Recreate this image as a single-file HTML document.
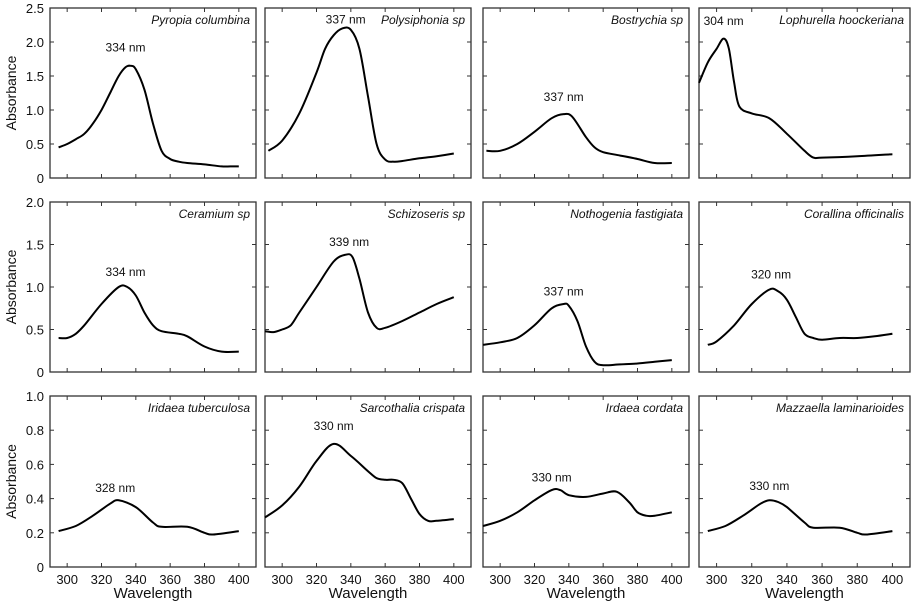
<!DOCTYPE html>
<html><head><meta charset="utf-8">
<style>
html,body{margin:0;padding:0;background:#fff;}
svg{display:block;font-family:"Liberation Sans",Arial,sans-serif;}
</style></head>
<body>
<svg id="chart" width="913" height="603" viewBox="0 0 913 603" xmlns="http://www.w3.org/2000/svg"></svg>
<script>
const species = ["Pyropia columbina","Polysiphonia sp","Bostrychia sp","Lophurella hoockeriana","Ceramium sp","Schizoseris sp","Nothogenia fastigiata","Corallina officinalis","Iridaea tuberculosa","Sarcothalia crispata","Irdaea cordata","Mazzaella laminarioides"];
const peakLabels = ["334 nm","337 nm","337 nm","304 nm","334 nm","339 nm","337 nm","320 nm","328 nm","330 nm","330 nm","330 nm"];
const peakLabelPos = [[334,1.86],[337,2.27],[337,1.13],[304,2.25],[334,1.13],[339,1.48],[337,0.9],[331,1.1],[328,0.44],[330,0.8],[330,0.5],[330,0.45]];
const wl1 = [295,300,305,310,315,320,325,330,334,337,340,345,350,355,360,365,370,380,390,395,400];
const ab1 = [0.45,0.5,0.57,0.65,0.8,1.0,1.25,1.5,1.63,1.65,1.6,1.3,0.8,0.4,0.28,0.24,0.22,0.2,0.17,0.17,0.17];
const wl2 = [292,300,310,320,325,330,335,340,345,350,355,360,365,370,380,390,400];
const ab2 = [0.4,0.55,0.95,1.55,1.9,2.1,2.2,2.18,1.9,1.2,0.5,0.27,0.24,0.25,0.29,0.32,0.36];
const wl3 = [292,300,310,320,330,337,342,350,355,360,370,380,390,400];
const ab3 = [0.4,0.4,0.5,0.68,0.88,0.94,0.9,0.6,0.45,0.38,0.33,0.28,0.22,0.22];
const wl4 = [290,295,300,304,307,310,313,320,330,340,350,355,360,380,400];
const ab4 = [1.4,1.7,1.9,2.05,1.9,1.4,1.05,0.95,0.88,0.65,0.4,0.3,0.3,0.32,0.35];
const wl5 = [295,300,305,310,320,330,335,340,345,350,355,365,370,380,390,400];
const ab5 = [0.4,0.4,0.45,0.55,0.8,1.0,1.0,0.9,0.7,0.55,0.48,0.45,0.42,0.3,0.24,0.24];
const wl6 = [290,295,300,305,310,320,330,337,341,345,350,355,360,370,380,390,400];
const ab6 = [0.48,0.47,0.5,0.55,0.7,1.0,1.3,1.38,1.35,1.1,0.7,0.52,0.52,0.6,0.7,0.8,0.88];
const wl7 = [290,300,310,320,330,337,340,345,350,355,360,370,380,390,400];
const ab7 = [0.32,0.35,0.4,0.55,0.75,0.8,0.78,0.6,0.3,0.12,0.08,0.09,0.1,0.12,0.14];
const wl8 = [295,300,310,320,330,335,340,345,350,355,360,370,380,390,400];
const ab8 = [0.32,0.36,0.55,0.8,0.97,0.95,0.85,0.65,0.45,0.4,0.38,0.4,0.4,0.42,0.45];
const wl9 = [295,305,315,325,330,340,350,355,370,380,385,400];
const ab9 = [0.21,0.24,0.3,0.37,0.39,0.35,0.26,0.235,0.235,0.2,0.19,0.21];
const wl10 = [290,300,310,320,330,340,350,355,360,365,370,375,380,385,390,400];
const ab10 = [0.29,0.36,0.47,0.62,0.72,0.65,0.56,0.52,0.51,0.51,0.49,0.4,0.31,0.27,0.27,0.28];
const wl11 = [290,300,310,320,330,335,340,350,360,368,375,380,385,390,400];
const ab11 = [0.24,0.27,0.32,0.39,0.45,0.45,0.42,0.41,0.43,0.44,0.38,0.32,0.3,0.3,0.32];
const wl12 = [295,305,315,325,330,335,340,350,355,370,380,385,400];
const ab12 = [0.21,0.24,0.3,0.37,0.39,0.38,0.35,0.26,0.23,0.23,0.2,0.19,0.21];
const xTicks = [300,320,340,360,380,400];
const yTicksRow = [[0,0.5,1.0,1.5,2.0,2.5],[0,0.5,1.0,1.5,2.0],[0,0.2,0.4,0.6,0.8,1.0]];
const yTickLabelsRow = [["0","0.5","1.0","1.5","2.0","2.5"],["0","0.5","1.0","1.5","2.0"],["0","0.2","0.4","0.6","0.8","1.0"]];
const yMaxRow = [2.5,2.0,1.0];

const wls=[wl1,wl2,wl3,wl4,wl5,wl6,wl7,wl8,wl9,wl10,wl11,wl12];
const abs=[ab1,ab2,ab3,ab4,ab5,ab6,ab7,ab8,ab9,ab10,ab11,ab12];
const colL=[50,265,483,699], colR=[256,471,689,910];
const rowT=[8,202,396], rowB=[178,372,567];
const NS="http://www.w3.org/2000/svg";
const svg=document.getElementById('chart');
function mk(t,a,p){const e=document.createElementNS(NS,t);for(const k in a)e.setAttribute(k,a[k]);(p||svg).appendChild(e);return e;}
function smooth(pts){
  let d='M'+pts[0][0].toFixed(1)+','+pts[0][1].toFixed(1);
  for(let k=0;k<pts.length-1;k++){
    const p0=pts[Math.max(0,k-1)],p1=pts[k],p2=pts[k+1],p3=pts[Math.min(pts.length-1,k+2)];
    const c1=[p1[0]+(p2[0]-p0[0])/6,p1[1]+(p2[1]-p0[1])/6];
    const c2=[p2[0]-(p3[0]-p1[0])/6,p2[1]-(p3[1]-p1[1])/6];
    d+=' C'+c1[0].toFixed(1)+','+c1[1].toFixed(1)+' '+c2[0].toFixed(1)+','+c2[1].toFixed(1)+' '+p2[0].toFixed(1)+','+p2[1].toFixed(1);
  }
  return d;
}

for(let i=0;i<12;i++){
  const r=Math.floor(i/4), c=i%4;
  const L=colL[c],R=colR[c],T=rowT[r],B=rowB[r];
  const xs=w=>L+(w-290)/120*(R-L);
  const ys=v=>B-v/yMaxRow[r]*(B-T);
  const g=mk('g',{});
  
  
  const fr=mk('rect',{x:L,y:T,width:R-L,height:B-T,fill:'none',stroke:'#333','stroke-width':1.3},g);
  
  
  xTicks.forEach(t=>{
    const x=xs(t);
    mk('line',{x1:x,x2:x,y1:B,y2:B-4,stroke:'#333'},g);
    mk('line',{x1:x,x2:x,y1:T,y2:T+4,stroke:'#333'},g);
    if(r===2){const tx=mk('text',{x:x,y:B+17,'text-anchor':'middle','font-size':13,fill:'#111'},g);tx.textContent=t;
      
      }
  });
  yTicksRow[r].forEach((t,k)=>{
    const y=ys(t);
    mk('line',{x1:L,x2:L+4,y1:y,y2:y,stroke:'#333'},g);
    mk('line',{x1:R,x2:R-4,y1:y,y2:y,stroke:'#333'},g);
    if(c===0){const tx=mk('text',{x:L-6,y:y+5,'text-anchor':'end','font-size':13,fill:'#111'},g);tx.textContent=yTickLabelsRow[r][k];
      
      }
  });
  const pts=wls[i].map((w,k)=>[xs(w),ys(abs[i][k])]);
  const p=mk('path',{d:smooth(pts),fill:'none',stroke:'#000','stroke-width':2,'stroke-linejoin':'round'},g);
  
  
  const nm=mk('text',{x:R-6,y:T+16,'text-anchor':'end','font-size':12,'font-style':'italic',fill:'#111'},g);
  nm.textContent=species[i];
  
  
  const pl=mk('text',{x:xs(peakLabelPos[i][0]),y:ys(peakLabelPos[i][1]),'text-anchor':'middle','font-size':12,fill:'#111'},g);
  pl.textContent=peakLabels[i];
  
  
  if(r===2){const xt=mk('text',{x:(L+R)/2,y:598,'text-anchor':'middle','font-size':15,fill:'#111'},g);xt.textContent='Wavelength';
    
    }
  if(c===0){const yc=(T+B)/2;const yt=mk('text',{x:0,y:0,transform:'translate(16,'+yc+') rotate(-90)','text-anchor':'middle','font-size':14,fill:'#111'},g);yt.textContent='Absorbance';
    
    }
}
</script>
</body></html>
